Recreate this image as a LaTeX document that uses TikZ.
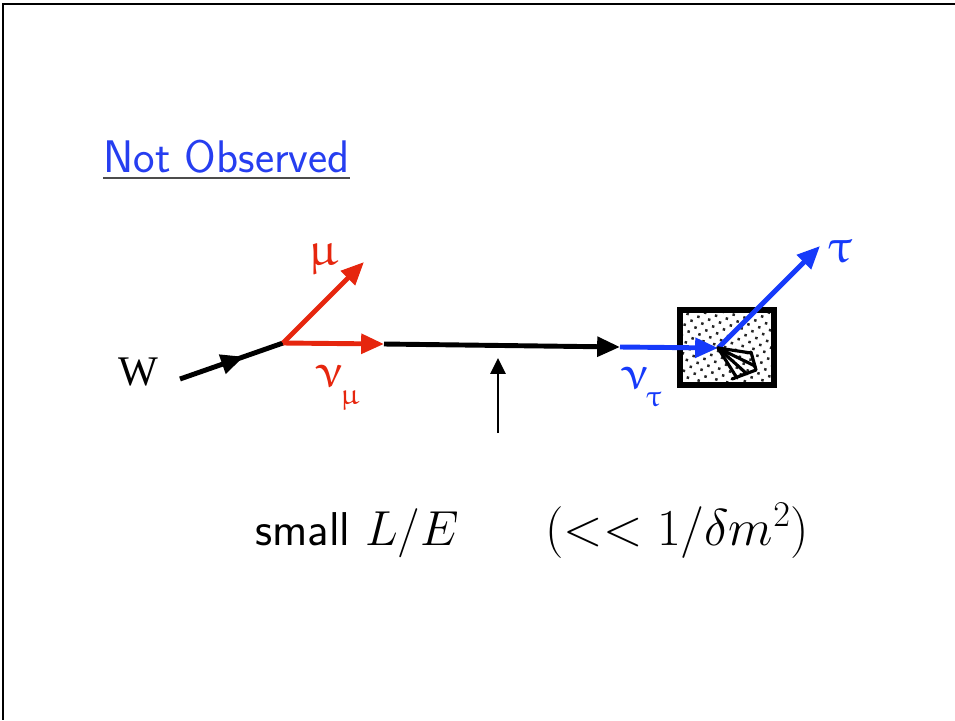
\RequirePackage{fix-cm}
\documentclass[tikz,border=0pt]{standalone}
\usepackage{fontspec}
\usepackage{upgreek}
\usetikzlibrary{arrows.meta, positioning, calc, patterns.meta, decorations.markings}
\definecolor{muonred}{RGB}{230,38,14}
\definecolor{taublue}{RGB}{22,58,250}
\definecolor{titleblue}{RGB}{38,62,240}
\newcommand{\sub}[1]{\kern-1.5pt\raisebox{-0.36em}{\fontsize{17}{17}\selectfont$#1$}}
\tikzset{
    frame/.style={line width=1.7pt},
    particle/.style={line width=2.8pt, -{Triangle[length=13pt,width=11pt]}},
    muon/.style={particle, draw=muonred},
    tauon/.style={particle, draw=taublue},
    boson/.style={line width=2.8pt, decoration={markings, mark=at position 0.62 with {\arrow{Triangle[length=13pt,width=11pt]}}}, postaction={decorate}},
    target/.style={rectangle, draw, line width=3.4pt, minimum width=1.88cm, minimum height=1.5cm, pattern={Dots[distance=4.5pt, angle=30, radius=1pt]}, pattern color=black!85},
    shower/.style={line width=1.8pt, line cap=round, line join=round},
    pointer/.style={line width=1.5pt, -{Triangle[length=9pt,width=8.5pt]}},
    greek/.style={font=\fontsize{27}{27}\selectfont, inner sep=0pt},
    title/.style={font=\sffamily\fontsize{26}{30}\selectfont, text=titleblue, inner sep=0pt}
}
\begin{document}
\begin{tikzpicture}[x=0.02cm, y=-0.02cm]
    \useasboundingbox (0,0) rectangle (955,720);
    \draw[frame] (955,4) -- (3,4) -- (3,720);

    \node[title, anchor=base west] (title) at (103,172) {Not Observed};
    \draw[line width=1.2pt, black!70] ($(title.base west)+(0,6)$) -- ($(title.base east)+(0,6)$);

    \coordinate (wstart) at (180,379);
    \coordinate (vtx) at (283,343);
    \coordinate (mutip) at (364,262);
    \coordinate (numutip) at (384,344);
    \coordinate (nutau) at (620,347);
    \coordinate (hit) at (718,348);
    \coordinate (tautip) at (820,246);
    \coordinate (lmark) at (498,433);
    \coordinate (ltip) at (498,358);

    \node[target] (box) at (727,347.5) {};

    \draw[boson] (wstart) -- (vtx);
    \draw[muon] (vtx) -- (mutip);
    \draw[muon] (vtx) -- (numutip);
    \draw[particle] (numutip) -- (nutau);
    \draw[tauon] (nutau) -- (hit);
    \draw[tauon] (hit) -- (tautip);

    % hadron shower
    \draw[shower] (hit) -- (751,353);
    \draw[shower] (hit) -- (755,366);
    \draw[shower] (hit) -- (747,374);
    \draw[shower] (hit) -- (737,378);
    \draw[shower] (732,379) -- (756,370) -- (751,352);

    \draw[pointer] (lmark) -- (ltip);

    \node[font=\fontspec{Liberation Serif}\fontsize{24}{24}\selectfont, inner sep=0pt] (wlabel) at (138,372) {W};
    \node[greek, text=muonred] (mulabel) at (323,259) {$\upmu$};
    \node[greek, text=muonred] (numulabel) at (337,388) {$\upnu$\sub{\upmu}};
    \node[greek, text=taublue] (nutaulabel) at (641,387) {$\upnu$\sub{\uptau}};
    \node[greek, text=taublue] (taulabel) at (840,252) {$\uptau$};

    \node[anchor=base west, inner sep=0pt, font=\sffamily\fontsize{27}{32}\selectfont] (small) at (255,545) {small \fontsize{28}{32}\selectfont$L/E$};
    \node[anchor=base west, inner sep=0pt, font=\fontsize{29.5}{34}\selectfont] (bound) at (545,545) {$(<<1/\delta m^2)$};
\end{tikzpicture}
\end{document}
